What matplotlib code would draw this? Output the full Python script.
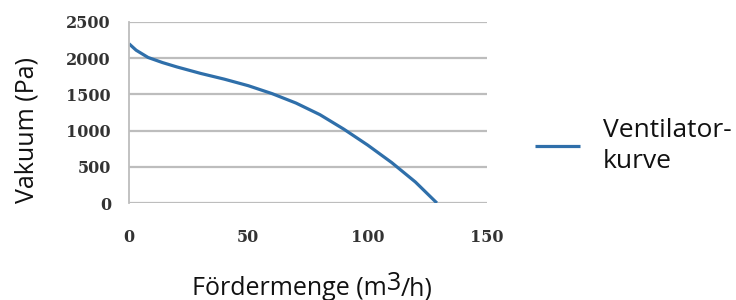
import matplotlib
matplotlib.use("Agg")
import matplotlib.pyplot as plt

# Data
flow = [0, 3, 8, 14, 20, 30, 40, 50, 60, 70, 80, 90, 100, 110, 120, 129]
vacuum = [2200, 2110, 2010, 1940, 1880, 1790, 1710, 1620, 1510, 1380, 1220, 1020, 800, 560, 290, 0]
xticks = [0, 50, 100, 150]
yticks = [0, 500, 1000, 1500, 2000, 2500]
series_label = "Ventilator-\nkurve"

W, H = 736, 300
fig = plt.figure(figsize=(W / 100, H / 100), dpi=100)
fig.patch.set_facecolor("white")

ax = fig.add_axes([129 / W, 1 - 203 / H, (487 - 129) / W, (203 - 22) / H])
line_color = "#2f6faa"
ax.plot(flow, vacuum, color=line_color, lw=2.3, label=series_label,
        solid_capstyle="butt", solid_joinstyle="round")

ax.set_xlim(0, 150)
ax.set_ylim(0, 2500)
ax.set_xticks(xticks)
ax.set_yticks(yticks)
ax.yaxis.grid(True, color="#bdbdbd", lw=1.6)
ax.set_axisbelow(True)
for s in ["top", "right", "bottom"]:
    ax.spines[s].set_visible(False)
ax.spines["left"].set_color("#bdbdbd")
ax.spines["left"].set_linewidth(1.3)
ax.tick_params(axis="both", length=0, labelsize=11.5, labelcolor="#333333")
ax.tick_params(axis="x", pad=19)
ax.tick_params(axis="y", pad=13)
for lab in ax.get_xticklabels() + ax.get_yticklabels():
    lab.set_fontfamily("DejaVu Serif")
    lab.set_fontweight("bold")

fs = 18
fam = "Open Sans"

# y label
fig.text(33 / W, 1 - 130 / H, "Vakuum (Pa)", rotation=90, rotation_mode="anchor",
         ha="center", va="baseline", fontsize=fs, family=fam, color="#111111")

# x label with raised '3'
fig.canvas.draw()
r = fig.canvas.get_renderer()
x0 = 192 / W
yb = 1 - 295 / H
t1 = fig.text(x0, yb, "Fördermenge (m", ha="left", va="baseline", fontsize=fs, family=fam, color="#111111")
w1 = t1.get_window_extent(r).width / W
t2 = fig.text(x0 + w1, yb + 5 / H, "3", ha="left", va="baseline", fontsize=fs, family=fam, color="#111111")
w2 = t2.get_window_extent(r).width / W
fig.text(x0 + w1 + w2, yb, "/h)", ha="left", va="baseline", fontsize=fs, family=fam, color="#111111")

# legend
lfs = 19
leg = fig.legend(loc="center left", bbox_to_anchor=(535 / W, 1 - 146 / H), frameon=False,
                 borderpad=0, borderaxespad=0, handlelength=45 / 26.4, handletextpad=23 / 26.4,
                 prop={"family": fam, "size": lfs})
for t in leg.get_texts():
    t.set_color("#111111")
    t.set_linespacing(1.3)

fig.savefig("out.png", dpi=100)
